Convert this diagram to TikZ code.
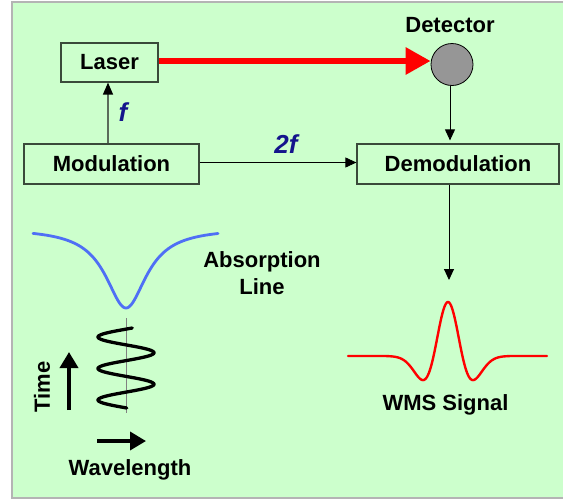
\documentclass[tikz,border=0pt]{standalone}
\usepackage{fontspec}
\setmainfont{Liberation Sans}
\usetikzlibrary{arrows.meta}
\definecolor{panel}{HTML}{CCFFCC}
\definecolor{panelborder}{HTML}{B4B4B4}
\definecolor{boxborder}{HTML}{3A4A3A}
\definecolor{labelblue}{HTML}{14148C}
\definecolor{curveblue}{HTML}{4F6FF5}
\definecolor{graygreen}{HTML}{5A6B5A}
\tikzset{
  blockbox/.style={draw=boxborder, line width=1.2pt, inner sep=0pt,
    font=\fontsize{22}{26}\selectfont\bfseries},
  lbl/.style={inner sep=0pt, font=\fontsize{22}{27}\selectfont\bfseries},
  freqlbl/.style={inner sep=0pt, text=labelblue, font=\fontsize{26}{30}\selectfont\bfseries\itshape},
  thinarrow/.style={draw=black, line width=0.9pt, -{Triangle[length=11pt,width=10pt]}},
  bigarrow/.style={draw=black, line width=3.5pt, -{Triangle[length=16pt,width=18pt]}}
}
\begin{document}
\begin{tikzpicture}[x=1pt,y=-1pt]
\useasboundingbox (0,0) rectangle (563,501);
\clip (0,0) rectangle (563,501);
\fill[white] (0,0) rectangle (563,501);
\draw[fill=panel, draw=panelborder, line width=1.5pt] (12,2) rectangle (570,498);

% blocks
\node[blockbox, minimum width=97pt, minimum height=39pt] (laser) at (109.5,62.5) {Laser};
\node[blockbox, minimum width=175pt, minimum height=40pt] (mod) at (111.5,164) {Modulation};
\node[blockbox, minimum width=202pt, minimum height=40pt] (demod) at (458,164) {Demodulation};
\node[circle, draw=black, line width=0.8pt, fill={rgb,255:red,150;green,150;blue,150}, minimum size=42pt, inner sep=0pt] (det) at (452,64.5) {};
\node[lbl] (detlbl) at (450,25) {Detector};

% connectors
\draw[red, line width=6pt, -{Triangle[length=25pt,width=26pt]}] ([yshift=1.5pt]laser.east) -- ([yshift=1.5pt]laser.east -| det.west);
\draw[draw=graygreen, line width=1.3pt, -{Triangle[length=12pt,width=10pt,color=black]}] ([xshift=-3.5pt]mod.north) -- ([xshift=-3.5pt]mod.north |- laser.south);
\node[freqlbl] (flbl) at (123,112) {f};
\draw[thinarrow] ([yshift=1.5pt]mod.east) -- ([yshift=1.5pt]mod.east -| demod.west);
\node[freqlbl] (twoflbl) at (286,144) {2f};
\draw[thinarrow, shorten >=3pt] ([xshift=-2pt]det.south) -- ([xshift=-2pt]det.south |- demod.north);
\coordinate (wmstop) at (449,280);
\draw[thinarrow] (demod.south -| wmstop) -- (wmstop);

% absorption line (Lorentzian)
\draw[curveblue, line width=2.8pt, line cap=round] plot[domain=33:218, samples=160, smooth] (\x, {228 + 80/(1+((\x-126)/25)^2)});
\node[lbl, align=center] (abslbl) at (262,273) {Absorption\\Line};

% modulation sine
\coordinate (axtop) at (126,318);
\coordinate (axbot) at (126,413);
\draw[gray, line width=0.7pt] (axtop) -- (axbot);
\draw[black, line width=3.3pt, line cap=round] plot[domain=328:408, samples=160, smooth] ({126 - 28*cos(11.4286*(\x-337))}, \x);

% time / wavelength arrows
\coordinate (tbot) at (69,410);
\coordinate (ttop) at (69,352);
\draw[bigarrow] (tbot) -- (ttop);
\node[lbl, rotate=90] (timelbl) at (42,387) {Time};
\coordinate (wl) at (97,441);
\coordinate (wr) at (146,441);
\draw[bigarrow] (wl) -- (wr);
\node[lbl] (wavelbl) at (130,470) {Wavelength};

% WMS signal
\draw[red, line width=2.4pt, line cap=round] plot[domain=348:547, samples=200, smooth] (\x, {356 - 54*(1-((\x-448)/14.43)^2)*exp(-0.5*((\x-448)/14.43)^2)});
\node[lbl] (wmslbl) at (445.5,405) {WMS Signal};
\end{tikzpicture}
\end{document}
